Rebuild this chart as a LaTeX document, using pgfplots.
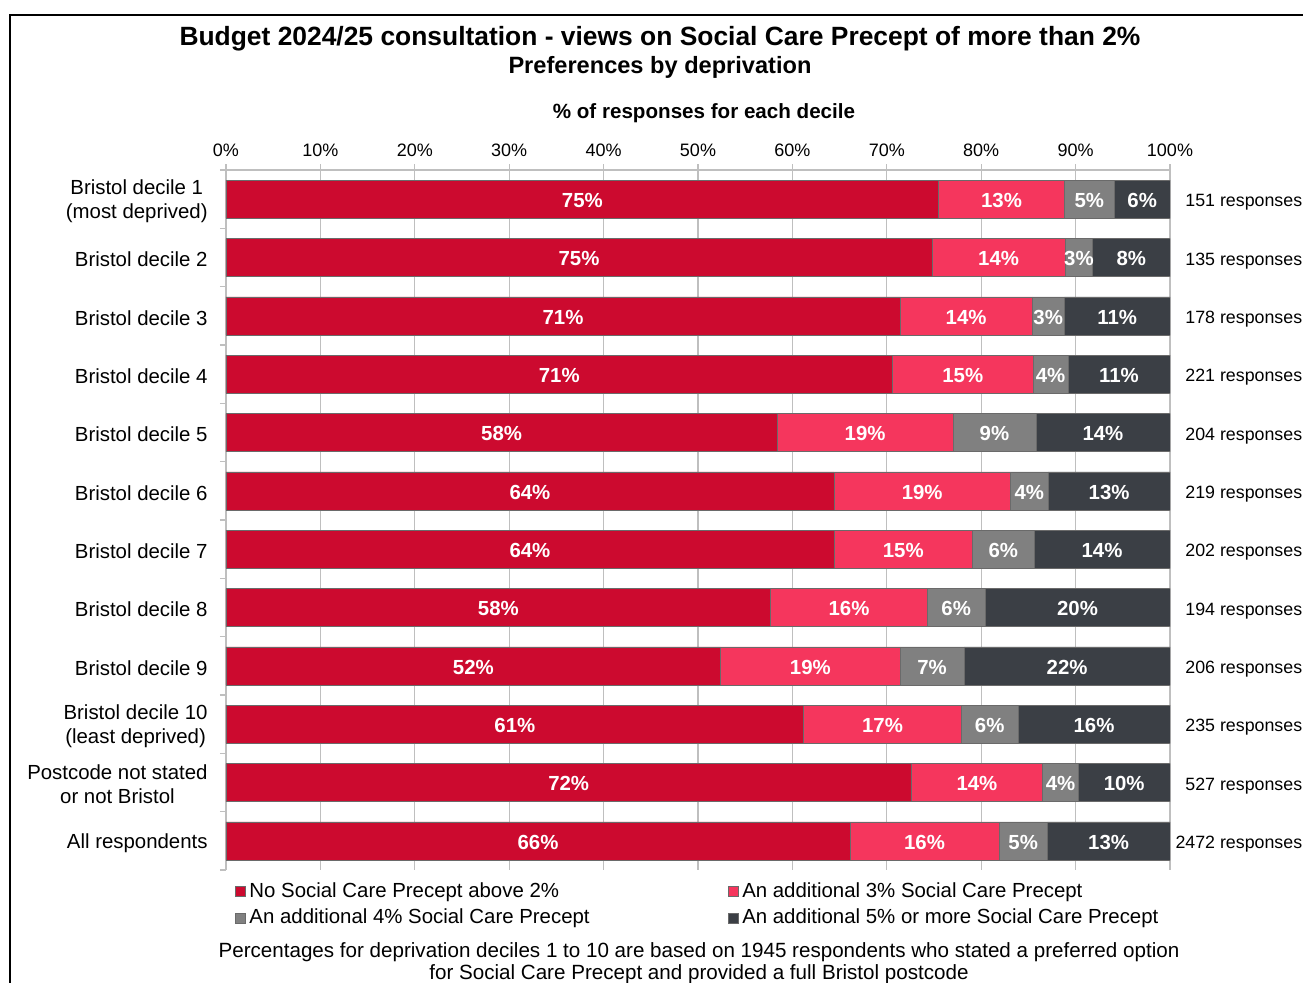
\documentclass[border=0pt]{standalone}
\usepackage{pgfplots}
\pgfplotsset{compat=1.18}
\usepackage{pgfplotstable}
\usepackage{fontspec}
\setmainfont{Liberation Sans}
\definecolor{cRed}{HTML}{CC0A2F}
\definecolor{cPink}{HTML}{F5365D}
\definecolor{cGray}{HTML}{808080}
\definecolor{cDark}{HTML}{3B3F45}
\definecolor{cGrid}{HTML}{BFBFBF}
\definecolor{cEdge}{HTML}{6A6A6A}
\newcommand\barfont{\bfseries\fontsize{10.2}{12}\selectfont}
\newcommand\lblfont{\fontsize{10.2}{12}\selectfont}

\pgfplotstableread{
row a b c d la lb lc ld
0 75.5 13.3 5.3 5.9 75 13 5 6
1 74.8 14.1 2.9 8.2 75 14 3 8
2 71.4 14.0 3.4 11.2 71 14 3 11
3 70.6 14.9 3.7 10.8 71 15 4 11
4 58.4 18.6 8.8 14.2 58 19 9 14
5 64.4 18.7 4.0 12.9 64 19 4 13
6 64.4 14.7 6.5 14.4 64 15 6 14
7 57.7 16.6 6.1 19.6 58 16 6 20
8 52.4 19.0 6.8 21.8 52 19 7 22
9 61.2 16.7 6.0 16.1 61 17 6 16
10 72.6 13.9 3.8 9.7 72 14 4 10
11 66.1 15.8 5.1 13.0 66 16 5 13
}\data

\pgfplotsset{
  segstyle/.style={
    draw=cEdge, line width=0.3pt,
    point meta=explicit symbolic,
    nodes near coords={\pgfplotspointmeta\%},
    nodes near coords style={anchor=center, text=white, font=\barfont, inner sep=0pt, yshift=-0.6pt},
  },
}

\begin{document}
\begin{tikzpicture}
\path[use as bounding box] (-113pt,-56pt) rectangle (538.5pt,435pt);
\draw[line width=0.7pt] (-108pt,-60pt) -- (-108pt,427.5pt) -- (545pt,427.5pt);

\begin{axis}[
  at={(0,0)}, anchor=south west,
  scale only axis, width=472pt, height=350pt,
  xbar stacked, bar width=19pt,
  xmin=0, xmax=100, ymin=-0.5, ymax=11.5, y dir=reverse,
  axis x line*=top, axis y line*=left,
  axis line style={draw=cGrid, line width=0.6pt},
  xtick={0,10,...,100},
  xticklabels={0\%,10\%,20\%,30\%,40\%,50\%,60\%,70\%,80\%,90\%,100\%},
  xticklabel style={font=\fontsize{9}{11}\selectfont, text=black},
  xmajorgrids, grid style={draw=cGrid, line width=0.6pt},
  tick align=outside, major tick length=3pt,
  tick style={draw=cGrid, line width=0.6pt},
  ytick={-0.5,0.5,...,11.5}, yticklabels={},
  extra y ticks={0,1,...,11},
  extra y tick labels={{Bristol decile 1\\(most deprived)},Bristol decile 2,Bristol decile 3,Bristol decile 4,Bristol decile 5,Bristol decile 6,Bristol decile 7,Bristol decile 8,Bristol decile 9,{Bristol decile 10\\(least deprived)},{Postcode not stated\\or not Bristol},All respondents},
  extra y tick style={major tick length=0pt, grid=none, tick style={draw=none},
    yticklabel style={align=center, font=\lblfont, anchor=east, inner sep=0pt, xshift=-9pt, yshift=-1pt}},
  legend columns=2,
  legend cell align=left,
  legend style={at={(0.009,0)}, anchor=north west, yshift=-4pt, draw=none, fill=none,
    font=\lblfont, inner sep=0pt, row sep=0.5pt,
    /tikz/every even column/.append style={column sep=67pt}},
  legend image code/.code={\draw[#1, line width=0.3pt] (0pt,-2.5pt) rectangle (5pt,2.5pt);},
]
\addplot[fill=cRed, segstyle] table[x=a, y=row, meta=la]{\data};
\addplot[fill=cPink, segstyle] table[x=b, y=row, meta=lb]{\data};
\addplot[fill=cGray, segstyle] table[x=c, y=row, meta=lc]{\data};
\addplot[fill=cDark, segstyle] table[x=d, y=row, meta=ld]{\data};
\legend{No Social Care Precept above 2\%, An additional 3\% Social Care Precept, An additional 4\% Social Care Precept, An additional 5\% or more Social Care Precept}
\end{axis}

\begin{axis}[
  at={(0,0)}, anchor=south west,
  scale only axis, width=472pt, height=350pt,
  xmin=0, xmax=100, ymin=-0.5, ymax=11.5, y dir=reverse,
  hide x axis, axis y line*=right, y axis line style={draw=none},
  ytick={0,1,...,11}, ytick style={draw=none},
  yticklabels={151 responses,135 responses,178 responses,221 responses,204 responses,219 responses,202 responses,194 responses,206 responses,235 responses,527 responses,2472 responses},
  yticklabel style={font=\fontsize{8.9}{11}\selectfont, anchor=east, inner sep=0pt, xshift=66.3pt, yshift=-1.6pt},
]
\end{axis}

\node[anchor=base, font=\bfseries\fontsize{13.2}{15}\selectfont] at (217pt,412pt) {Budget 2024/25 consultation - views on Social Care Precept of more than 2\%};
\node[anchor=base, font=\bfseries\fontsize{11.8}{14}\selectfont] at (217pt,398pt) {Preferences by deprivation};
\node[anchor=base, font=\bfseries\fontsize{10.3}{12}\selectfont] at (239pt,375.5pt) {\% of responses for each decile};
\node[anchor=base, font=\fontsize{10.3}{11}\selectfont, align=center] at (236.5pt,-54.5pt) {Percentages for deprivation deciles 1 to 10 are based on 1945 respondents who stated a preferred option\\for Social Care Precept and provided a full Bristol postcode};
\end{tikzpicture}
\end{document}
